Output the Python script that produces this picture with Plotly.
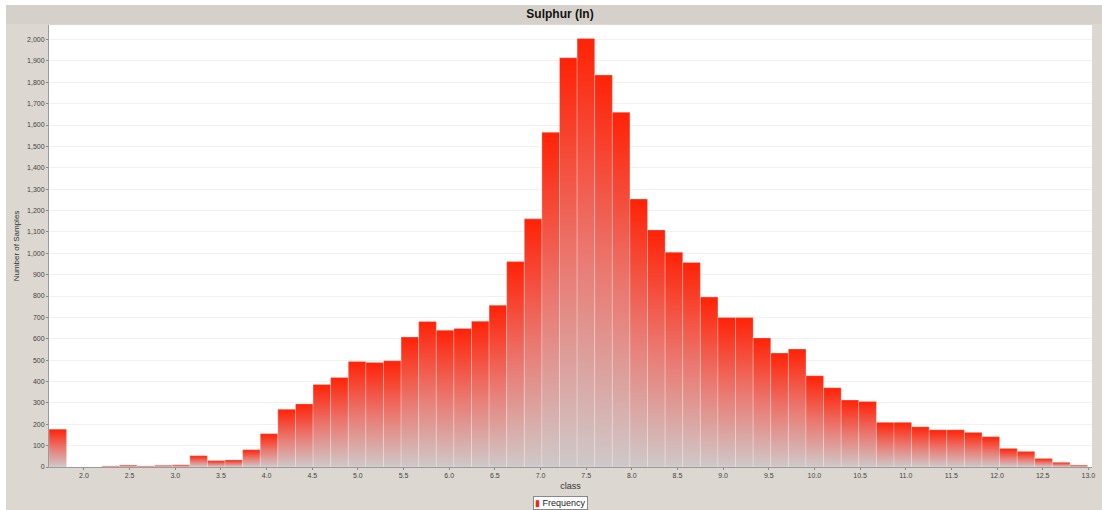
import plotly.graph_objects as go

# ---- data ----
bin_start = 1.617
bin_width = 0.1928
frequency = [177, 0, 0, 5, 9, 5, 8, 10, 53, 30,
             33, 81, 156, 270, 295, 386, 419, 494, 489, 497,
             608, 681, 640, 648, 682, 757, 961, 1161, 1566, 1915,
             2005, 1834, 1660, 1254, 1109, 1005, 957, 795, 699, 699,
             604, 533, 552, 427, 371, 313, 307, 209, 209, 188,
             174, 174, 162, 142, 87, 73, 40, 22, 9]
x_ticks = [2.0 + 0.5 * i for i in range(23)]
y_ticks = list(range(0, 2001, 100))
series_name = "Frequency"

W, H = 1102, 510
L, R, T, B = 49, 10, 25, 43
pw, ph = W - L - R, H - T - B

fig = go.Figure()

grad = dict(type="vertical",
            colorscale=[[0, "rgb(206,201,201)"], [0.5, "rgb(234,120,112)"], [1, "rgb(255,34,6)"]])

for i, h in enumerate(frequency):
    if h <= 0:
        continue
    x0 = bin_start + i * bin_width
    x1 = x0 + bin_width
    fig.add_trace(go.Scatter(
        x=[x0, x0, x1, x1, x0], y=[0, h, h, 0, 0],
        mode="lines", fill="toself", fillgradient=grad,
        line=dict(width=0.6, color="rgba(255,235,235,0.5)"),
        hoverinfo="skip", showlegend=False))


def px(xp):
    return (xp - L) / pw


def py(yp):
    return (H - B - yp) / ph


shapes = [
    dict(type="rect", xref="paper", yref="paper", x0=px(0), x1=px(6), y0=py(510), y1=py(0),
         fillcolor="white", line_width=0, layer="below"),
    dict(type="rect", xref="paper", yref="paper", x0=px(0), x1=px(1102), y0=py(5), y1=py(0),
         fillcolor="white", line_width=0, layer="below"),
    dict(type="rect", xref="paper", yref="paper", x0=px(6), x1=px(1102), y0=py(24), y1=py(5),
         fillcolor="#d5d1ca", line_width=0, layer="below"),
]

annotations = [
    dict(xref="paper", yref="paper", x=px(560), y=py(503), xanchor="center", yanchor="middle",
         text=f"<span style='color:#ff2206'>▮</span> {series_name}", showarrow=False,
         font=dict(size=9, color="#222222", family="Liberation Sans, Arial, sans-serif"),
         bgcolor="white", bordercolor="#888888", borderwidth=1, borderpad=1),
]

fig.update_layout(
    width=W, height=H,
    margin=dict(l=L, r=R, t=T, b=B, autoexpand=False),
    paper_bgcolor="#dcd8d1",
    plot_bgcolor="white",
    font=dict(family="Liberation Sans, Arial, sans-serif", color="#444444", size=8),
    title=dict(text="<b>Sulphur (ln)</b>", x=560 / W, xanchor="center",
               y=1 - 14 / H, yanchor="middle",
               font=dict(size=12, color="#111111", family="Liberation Sans, Arial, sans-serif")),
    shapes=shapes,
    annotations=annotations,
    showlegend=False,
)

fig.update_xaxes(
    range=[bin_start, 13.04],
    tickmode="array", tickvals=x_ticks, ticktext=[f"{v:.1f}" for v in x_ticks],
    ticks="outside", ticklen=2, tickcolor="#888888",
    tickfont=dict(size=7, color="#444444"),
    showline=True, linecolor="#9a9a9a", linewidth=1,
    showgrid=False, zeroline=False,
    title=dict(text="class", font=dict(size=9, color="#333333"), standoff=4),
)
fig.update_yaxes(
    range=[0, 2068],
    tickmode="array", tickvals=y_ticks, ticktext=[f"{v:,}" for v in y_ticks],
    ticks="outside", ticklen=2, tickcolor="#888888",
    tickfont=dict(size=7, color="#444444"),
    showline=True, linecolor="#9a9a9a", linewidth=1,
    showgrid=True, gridcolor="#f1f1f1", gridwidth=1, zeroline=False,
    title=dict(text="Number of Samples", font=dict(size=8, color="#333333"), standoff=6),
)

fig.write_html("out.html")
